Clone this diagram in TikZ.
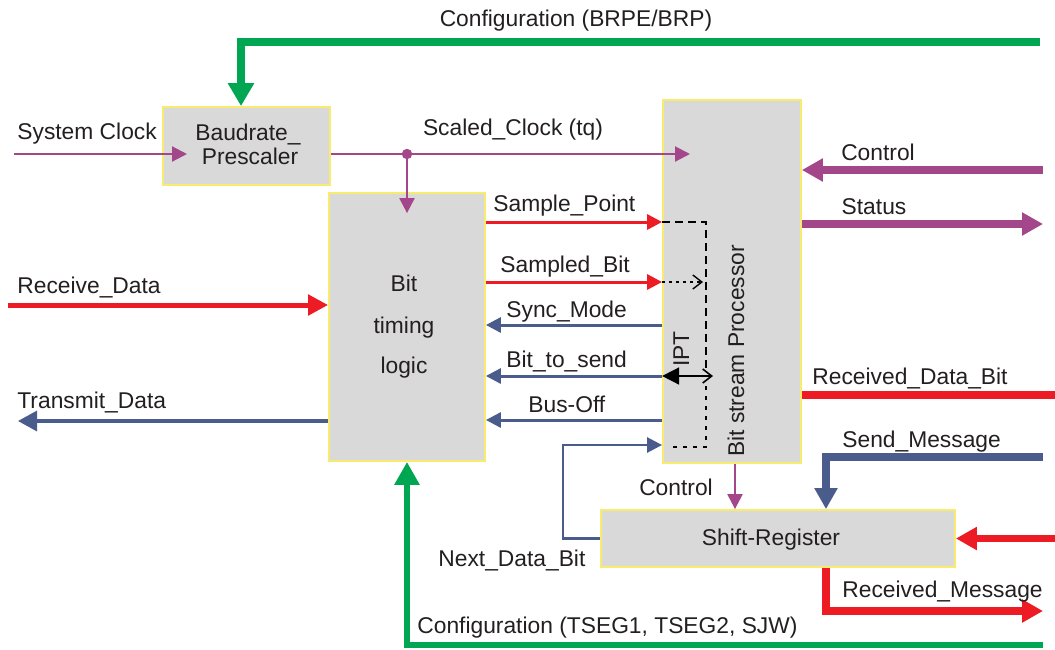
\documentclass[tikz,border=0pt]{standalone}
\usepackage{fontspec}
\setmainfont{Liberation Sans}
\usetikzlibrary{arrows.meta,fit}
\definecolor{cangreen}{HTML}{00A651}
\definecolor{canred}{HTML}{ED1C24}
\definecolor{canblue}{HTML}{4A5C8C}
\definecolor{canpurple}{HTML}{A4468A}
\definecolor{boxgray}{HTML}{D9D9D9}
\definecolor{boxedge}{HTML}{F7EC6E}
\definecolor{txt}{HTML}{231F20}
\begin{document}
\begin{tikzpicture}[x=0.5pt,y=-0.5pt,font=\fontsize{11.4}{13.7}\selectfont,text=txt,
  blk/.style={fill=boxgray,draw=boxedge,line width=0.9pt,inner sep=0pt},
  sig/.style={line width=1.5pt,-{Triangle[length=7.5pt,width=7.5pt]}},
  bus/.style={line width=3.6pt,-{Triangle[length=10.5pt,width=11pt]}},
  lbl/.style={anchor=base west,inner sep=0pt},
  mid/.style={anchor=base,inner sep=0pt}]
\useasboundingbox (0,0) rectangle (1055,649);
% blocks
\node[blk,fit={(163,107) (330,185)}] (pre) {};
\node[blk,fit={(329,193) (485,461)}] (btl) {};
\node[blk,fit={(663,100) (801,463)}] (bsp) {};
\node[blk,fit={(601,510) (955,567)}] (shr) {};
\node[mid] (prelab1) at (248,140) {Baudrate\_};
\node[mid] (prelab2) at (250,164) {Prescaler};
\foreach \w/\by in {Bit/291, timing/333, logic/373}
  \node[mid] (btl\w) at (404,\by) {\w};
\node[rotate=90,anchor=base] (bsplab) at (744,351) {Bit stream Processor};
\node[mid] (shrlab) at (771,545) {Shift-Register};
% clock path
\coordinate (clkin) at (14,154); \coordinate (clktip) at (187,154);
\coordinate (tap) at (407,154); \coordinate (tqtip) at (690,154);
\draw[sig,canpurple,line width=1.1pt] (clkin) -- (clktip);
\draw[sig,canpurple,line width=1.1pt] (pre.east |- tap) -- (tqtip);
\fill[canpurple] (tap) circle (2.6pt);
\draw[sig,canpurple,line width=1.1pt] (tap) -- ([yshift=-10.5pt]btl.north);
\node[lbl] (clklab) at (17,139) {System Clock};
\node[mid] (tqlab) at (513,135) {Scaled\_Clock (tq)};
% configuration of the prescaler
\coordinate (cfgin) at (1040,42);
\draw[bus,cangreen,-{Triangle[length=11.5pt,width=12.5pt]}] (cfgin) -| ([xshift=-2.75pt]pre.north);
\node[mid] (cfglab) at (576,26) {Configuration (BRPE/BRP)};
% right side of the processor
\coordinate (ctlin) at (1043,170); \coordinate (stout) at (1043,224);
\coordinate (rdbout) at (1055,395);
\draw[bus,canpurple] (ctlin) -- (bsp.east |- ctlin);
\draw[bus,canpurple] (bsp.east |- stout) -- (stout);
\draw[canred,line width=3.6pt] (bsp.east |- rdbout) -- (rdbout);
\node[mid] (ctllab) at (878,160) {Control};
\node[mid] (stlab) at (874,214) {Status};
\node[lbl] (rdblab) at (812,384) {Received\_Data\_Bit};
% bus side of the timing logic
\coordinate (rxin) at (8,305); \coordinate (txout) at (18,421);
\draw[canred,line width=2.5pt,-{Triangle[length=10pt,width=10pt]}] (rxin) -- (btl.west |- rxin);
\draw[canblue,line width=1.6pt,-{Triangle[length=9.5pt,width=10pt]}] (btl.west |- txout) -- (txout);
\node[lbl] (rxlab) at (17,293) {Receive\_Data};
\node[lbl] (txlab) at (17,408) {Transmit\_Data};
% timing logic <-> processor
\foreach \y/\lx/\by/\lab in {222/493/211/Sample\_Point, 282/500/272/Sampled\_Bit}
  {\draw[sig,canred] (btl.east |- 0,\y) -- (bsp.west |- 0,\y);
   \node[lbl] (l\y) at (\lx,\by) {\lab};}
\foreach \y/\lx/\by/\lab in {325/506/317/Sync\_Mode, 376/506/367/Bit\_to\_send, 420/528/412/Bus-Off}
  {\draw[sig,canblue] (bsp.west |- 0,\y) -- (btl.east |- 0,\y);
   \node[lbl] (l\y) at (\lx,\by) {\lab};}
% inside the processor
\draw[line width=0.7pt,dash pattern=on 4pt off 2.5pt] (bsp.west |- 0,222) -- (706,222) -- (706,372);
\draw[line width=0.7pt,dash pattern=on 2pt off 3pt] (706,386) -- (706,447) -- (670,447);
\draw[line width=0.7pt,dash pattern=on 1.5pt off 2pt,-{Straight Barb[length=4.5pt,width=7pt]}] (bsp.west |- 0,282) -- (703,282);
\draw[line width=0.8pt,{Triangle[length=8.5pt,width=8.5pt]}-{Straight Barb[length=4.5pt,width=7pt]}] (bsp.west |- 0,376) -- (713,376);
\node[rotate=90,anchor=base] (ipt) at (689,349) {IPT};
% shift register
\coordinate (nbc) at (563,445);
\draw[sig,canblue,line width=1.3pt] (shr.west) -| (nbc) -- (bsp.west |- nbc);
\node[lbl] (nblab) at (438,566) {Next\_Data\_Bit};
\draw[sig,canpurple,line width=1.1pt] ([xshift=1.5pt]bsp.south) -- ([xshift=1.5pt]bsp.south |- shr.north);
\node[mid] (ctl2lab) at (676,495) {Control};
\coordinate (smin) at (1043,457); \coordinate (rmout) at (1043,611);
\coordinate (rin) at (1055,538.5);
\draw[bus,canblue] (smin) -| ([xshift=24pt]shr.north);
\draw[bus,canred] ([xshift=24pt]shr.south) |- (rmout);
\draw[bus,canred] (rin) -- (shr.east);
\node[lbl] (smlab) at (842,447) {Send\_Message};
\node[lbl] (rmlab) at (842,597) {Received\_Message};
% configuration of the timing logic
\coordinate (cfg2in) at (1043,645);
\draw[bus,cangreen,line width=3.2pt,-{Triangle[length=11.5pt,width=12pt]}] (cfg2in) -| (btl.south);
\node[lbl] (cfg2lab) at (417,633) {Configuration (TSEG1, TSEG2, SJW)};
\end{tikzpicture}
\end{document}
